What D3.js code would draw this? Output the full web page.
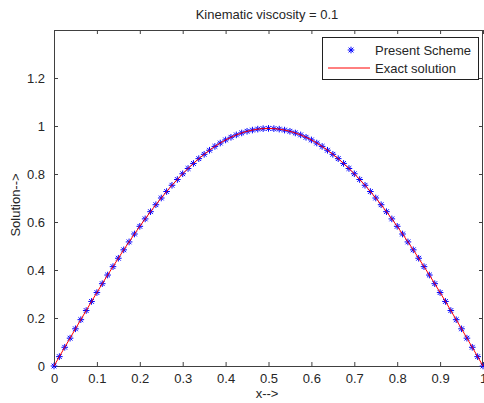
<!DOCTYPE html>
<html>
<head>
<meta charset="utf-8">
<script src="https://cdn.jsdelivr.net/npm/d3@7"></script>
<style>
body { margin: 0; background: #fff; }
svg text { font-family: "Liberation Sans", Arial, sans-serif; font-size: 13px; fill: #262626; }
</style>
</head>
<body>
<div class="chart-wrapper"></div>
<script>
// grid points and values
const xValues = [0, 0.0125, 0.025, 0.0375, 0.05, 0.0625, 0.075, 0.0875, 0.1, 0.1125, 0.125, 0.1375, 0.15, 0.1625, 0.175, 0.1875,
	0.2, 0.2125, 0.225, 0.2375, 0.25, 0.2625, 0.275, 0.2875, 0.3, 0.3125, 0.325, 0.3375, 0.35, 0.3625, 0.375, 0.3875,
	0.4, 0.4125, 0.425, 0.4375, 0.45, 0.4625, 0.475, 0.4875, 0.5, 0.5125, 0.525, 0.5375, 0.55, 0.5625, 0.575, 0.5875,
	0.6, 0.6125, 0.625, 0.6375, 0.65, 0.6625, 0.675, 0.6875, 0.7, 0.7125, 0.725, 0.7375, 0.75, 0.7625, 0.775, 0.7875,
	0.8, 0.8125, 0.825, 0.8375, 0.85, 0.8625, 0.875, 0.8875, 0.9, 0.9125, 0.925, 0.9375, 0.95, 0.9625, 0.975, 0.9875, 1]

const schemeValues = [0, 0.039, 0.078, 0.116, 0.155, 0.193, 0.231, 0.269, 0.306, 0.343, 0.379, 0.414, 0.449, 0.484, 0.517, 0.550,
	0.582, 0.613, 0.643, 0.672, 0.700, 0.727, 0.753, 0.777, 0.801, 0.823, 0.844, 0.864, 0.882, 0.899, 0.915, 0.929,
	0.942, 0.953, 0.963, 0.971, 0.978, 0.983, 0.987, 0.989, 0.990, 0.989, 0.987, 0.983, 0.978, 0.971, 0.963, 0.953,
	0.942, 0.929, 0.915, 0.899, 0.882, 0.864, 0.844, 0.823, 0.801, 0.777, 0.753, 0.727, 0.700, 0.672, 0.643, 0.613,
	0.582, 0.550, 0.517, 0.484, 0.449, 0.414, 0.379, 0.343, 0.306, 0.269, 0.231, 0.193, 0.155, 0.116, 0.078, 0.039, 0]

// exact solution sits on top of the scheme at this resolution
const exactValues = schemeValues.slice()

const xTicks = [0, 0.1, 0.2, 0.3, 0.4, 0.5, 0.6, 0.7, 0.8, 0.9, 1]
const yTicks = [0, 0.2, 0.4, 0.6, 0.8, 1, 1.2]
const legendLabels = ['Present Scheme', 'Exact solution']

const width = 484
const height = 403
const margin = {left: 54, top: 30, right: 1, bottom: 37}

let svg = d3.select('.chart-wrapper').append('svg')
.attr('width', width)
.attr('height', height)

let xScale = d3.scaleLinear()
.range([margin.left, width - margin.right])
.domain([0, 1])

let yScale = d3.scaleLinear()
.range([height - margin.bottom, margin.top])
.domain([0, 1.4])

const axisColor = '#404040'
const tickLen = 4

let axis = svg.append('g')
let marks = svg.append('g')
let legend = svg.append('g')

// bottom + top axes
axis.append('g')
.attr('transform', 'translate(0,' + yScale(0) + ')')
.call(d3.axisBottom(xScale).tickValues(xTicks).tickSizeInner(-tickLen).tickSizeOuter(0).tickPadding(8).tickFormat(d => d))
.call(g => g.select('.domain').remove())

axis.append('g')
.attr('transform', 'translate(0,' + yScale(1.4) + ')')
.call(d3.axisTop(xScale).tickValues(xTicks).tickSizeInner(-tickLen).tickSizeOuter(0).tickFormat(''))
.call(g => g.select('.domain').remove())

axis.append('g')
.attr('transform', 'translate(' + xScale(0) + ',0)')
.call(d3.axisLeft(yScale).tickValues(yTicks).tickSizeInner(-tickLen).tickSizeOuter(0).tickPadding(9).tickFormat(d => d))
.call(g => g.select('.domain').remove())

axis.append('g')
.attr('transform', 'translate(' + xScale(1) + ',0)')
.call(d3.axisRight(yScale).tickValues(yTicks).tickSizeInner(-tickLen).tickSizeOuter(0).tickFormat(''))
.call(g => g.select('.domain').remove())

axis.selectAll('.tick line').attr('stroke', axisColor)
axis.selectAll('.tick text').attr('fill', '#262626').style('font-size', '13px')

axis.append('rect')
.attr('x', xScale(0) + 0.5)
.attr('y', yScale(1.4) + 0.5)
.attr('width', xScale(1) - xScale(0) - 1)
.attr('height', yScale(0) - yScale(1.4))
.attr('fill', 'none')
.attr('stroke', axisColor)
.attr('stroke-width', 1)

// star marker like matlab '*'
const starPath = (r) => {
	let d = r * 0.72
	return `M${-r},0L${r},0M0,${-r}L0,${r}M${-d},${-d}L${d},${d}M${-d},${d}L${d},${-d}`
}

marks.selectAll('.star')
.data(xValues)
.enter()
.append('path')
.attr('class', 'star')
.attr('transform', (d, i) => `translate(${xScale(d)},${yScale(schemeValues[i])})`)
.attr('d', starPath(3.3))
.attr('stroke', '#0000ff')
.attr('stroke-width', 1)
.attr('fill', 'none')

const line = d3.line()
.x((d, i) => xScale(xValues[i]))
.y(d => yScale(d))

marks.append('path')
.datum(exactValues)
.attr('d', line)
.attr('fill', 'none')
.attr('stroke', '#ff0000')
.attr('stroke-width', 1)

// titles
svg.append('text')
.attr('x', 267)
.attr('y', 19)
.attr('text-anchor', 'middle')
.text('Kinematic viscosity = 0.1')

svg.append('text')
.attr('x', 267)
.attr('y', 398)
.attr('text-anchor', 'middle')
.text('x-->')

svg.append('text')
.attr('transform', 'translate(20,205) rotate(-90)')
.attr('text-anchor', 'middle')
.text('Solution-->')

// legend
legend.append('rect')
.attr('x', 322.5)
.attr('y', 37.5)
.attr('width', 156)
.attr('height', 42)
.attr('fill', '#fff')
.attr('stroke', '#202020')
.attr('stroke-width', 1)

legend.append('path')
.attr('transform', 'translate(351,50)')
.attr('d', starPath(3.3))
.attr('stroke', '#0000ff')
.attr('fill', 'none')

legend.append('line')
.attr('x1', 328)
.attr('x2', 370)
.attr('y1', 68)
.attr('y2', 68)
.attr('stroke', '#ff0000')

legend.selectAll('.legend-label')
.data(legendLabels)
.enter()
.append('text')
.attr('class', 'legend-label')
.attr('x', 375)
.attr('y', (d, i) => 55 + i * 18)
.text(d => d)
</script>
</body>
</html>
